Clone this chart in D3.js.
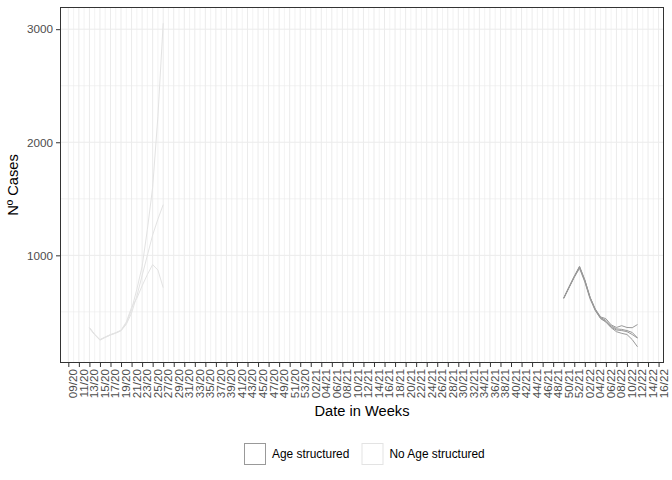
<!DOCTYPE html>
<html>
<head>
<meta charset="utf-8">
<script src="https://cdn.jsdelivr.net/npm/d3@7"></script>
<style>
  html, body { margin: 0; padding: 0; background: #ffffff; }
  svg { display: block; font-family: "Liberation Sans", Arial, sans-serif; }
</style>
</head>
<body>
<svg id="chart" width="672" height="480"></svg>
<script>
// ---------- DATA ----------
const weeks = ("09/20 10/20 11/20 12/20 13/20 14/20 15/20 16/20 17/20 18/20 19/20 20/20 21/20 22/20 23/20 24/20 25/20 26/20 27/20 28/20 29/20 30/20 31/20 32/20 33/20 34/20 35/20 36/20 37/20 38/20 39/20 40/20 41/20 42/20 43/20 44/20 45/20 46/20 47/20 48/20 49/20 50/20 51/20 52/20 53/20 " +
  "01/21 02/21 03/21 04/21 05/21 06/21 07/21 08/21 09/21 10/21 11/21 12/21 13/21 14/21 15/21 16/21 17/21 18/21 19/21 20/21 21/21 22/21 23/21 24/21 25/21 26/21 27/21 28/21 29/21 30/21 31/21 32/21 33/21 34/21 35/21 36/21 37/21 38/21 39/21 40/21 41/21 42/21 43/21 44/21 45/21 46/21 47/21 48/21 49/21 50/21 51/21 52/21 " +
  "01/22 02/22 03/22 04/22 05/22 06/22 07/22 08/22 09/22 10/22 11/22 12/22 13/22 14/22 15/22 16/22").split(" ");

// tick labels: every second week
const tickLabels = weeks.filter((d, i) => i % 2 === 0);

const yTicks = [1000, 2000, 3000];
const yMinorTicks = [500, 1500, 2500];

const groups = ["Age structured", "No Age structured"];

// No Age structured runs: weeks 13/20 .. 27/20
const noAgeStart = "13/20";
const noAgeRun1 = [360, 300, 252, 276, 297, 314, 335, 400, 520, 700, 900, 1230, 1600, 2230, 3053];
const noAgeRun2 = [355, 298, 250, 274, 295, 312, 333, 390, 490, 640, 820, 1000, 1180, 1320, 1448];
const noAgeRun3 = [362, 302, 255, 278, 299, 316, 338, 410, 540, 620, 730, 830, 918, 870, 714];

// Age structured runs: weeks 50/21 .. 12/22
const ageStart = "50/21";
const ageRun1 = [624, 720, 815, 903, 785, 630, 525, 455, 440, 385, 362, 378, 362, 360, 388];
const ageRun2 = [620, 715, 810, 895, 775, 625, 520, 450, 425, 375, 350, 345, 335, 318, 270];
const ageRun3 = [618, 712, 805, 885, 765, 615, 510, 440, 410, 360, 325, 310, 300, 255, 191];
const ageRun4 = [622, 718, 812, 898, 780, 628, 515, 445, 415, 365, 340, 335, 325, 300, 268];

// ---------- LAYOUT ----------
const svg = d3.select("#chart");
const panel = { left: 60, top: 7, right: 664, bottom: 363 };
const colors = { "Age structured": "#999999", "No Age structured": "#e3e3e3" };

const series = [
  ...[noAgeRun1, noAgeRun2, noAgeRun3].map(v => ({ group: "No Age structured", start: noAgeStart, values: v })),
  ...[ageRun1, ageRun2, ageRun3, ageRun4].map(v => ({ group: "Age structured", start: ageStart, values: v }))
];
series.forEach(s => {
  const i0 = weeks.indexOf(s.start);
  s.points = s.values.map((v, k) => ({ i: i0 + k, v }));
});

const allVals = series.flatMap(s => s.values);
const [vMin, vMax] = d3.extent(allVals);
const pad = (vMax - vMin) * 0.05;

const x = d3.scaleLinear().domain([-1.58, 113.03]).range([panel.left, panel.right]);
const y = d3.scaleLinear().domain([vMin - pad, vMax + pad]).range([panel.bottom, panel.top]);

// panel background
svg.append("rect").attr("x", panel.left).attr("y", panel.top)
  .attr("width", panel.right - panel.left).attr("height", panel.bottom - panel.top)
  .attr("fill", "#ffffff");

const grid = svg.append("g").attr("stroke", "#ebebeb").attr("fill", "none");
// vertical grid: minor at every odd week, major at ticks
weeks.forEach((w, i) => {
  grid.append("line")
    .attr("x1", x(i)).attr("x2", x(i))
    .attr("y1", panel.top).attr("y2", panel.bottom)
    .attr("stroke-width", i % 2 === 0 ? 1 : 0.6);
});
yMinorTicks.forEach(t => {
  grid.append("line").attr("x1", panel.left).attr("x2", panel.right)
    .attr("y1", y(t)).attr("y2", y(t)).attr("stroke-width", 0.6);
});
yTicks.forEach(t => {
  grid.append("line").attr("x1", panel.left).attr("x2", panel.right)
    .attr("y1", y(t)).attr("y2", y(t)).attr("stroke-width", 1);
});

// lines
const line = d3.line().x(d => x(d.i)).y(d => y(d.v));
const clip = svg.append("defs").append("clipPath").attr("id", "clip")
  .append("rect").attr("x", panel.left).attr("y", panel.top)
  .attr("width", panel.right - panel.left).attr("height", panel.bottom - panel.top);
svg.append("g").attr("clip-path", "url(#clip)")
  .selectAll("path").data(series).join("path")
  .attr("d", s => line(s.points))
  .attr("fill", "none")
  .attr("stroke", s => colors[s.group])
  .attr("stroke-width", 1);

// panel border
svg.append("rect").attr("x", panel.left + 0.5).attr("y", panel.top + 0.5)
  .attr("width", panel.right - panel.left - 1).attr("height", panel.bottom - panel.top - 1)
  .attr("fill", "none").attr("stroke", "#333333").attr("stroke-width", 1);

// y axis
const yAxis = svg.append("g")
  .attr("transform", `translate(${panel.left},0)`)
  .call(d3.axisLeft(y).tickValues(yTicks).tickSize(4).tickPadding(3).tickFormat(d3.format("d")));
yAxis.select(".domain").remove();
yAxis.selectAll(".tick line").attr("stroke", "#333333");
yAxis.selectAll(".tick text").attr("fill", "#4d4d4d").style("font-size", "11.7px")
  .style("font-family", "'Liberation Sans', Arial, sans-serif");

// x axis
const tickIdx = weeks.map((w, i) => i).filter(i => i % 2 === 0);
const xAxis = svg.append("g")
  .attr("transform", `translate(0,${panel.bottom})`)
  .call(d3.axisBottom(x).tickValues(tickIdx).tickSize(4).tickFormat(i => weeks[i]));
xAxis.select(".domain").remove();
xAxis.selectAll(".tick line").attr("stroke", "#333333");
xAxis.selectAll(".tick text")
  .attr("fill", "#4d4d4d")
  .style("font-size", "11.7px")
  .style("font-family", "'Liberation Sans', Arial, sans-serif")
  .attr("text-anchor", "end")
  .attr("transform", "rotate(-90)")
  .attr("x", -6).attr("y", 0).attr("dy", "0.72em");

// axis titles
svg.append("text").attr("x", (panel.left + panel.right) / 2).attr("y", 416)
  .attr("text-anchor", "middle").style("font-size", "14.67px").attr("fill", "#000")
  .text("Date in Weeks");
svg.append("text").attr("transform", `translate(18,${(panel.top + panel.bottom) / 2}) rotate(-90)`)
  .attr("text-anchor", "middle").style("font-size", "14.67px").attr("fill", "#000")
  .text("Nº Cases");

// legend
const legend = svg.append("g");
const legendX = [244.5, 362];
groups.forEach((g, k) => {
  const lg = legend.append("g").attr("transform", `translate(${legendX[k]},443.5)`);
  lg.append("rect").attr("width", 21).attr("height", 21)
    .attr("fill", "#ffffff").attr("stroke", colors[g]).attr("stroke-width", 1);
  lg.append("text").attr("x", 27.5).attr("y", 10.5).attr("dy", "0.35em")
    .style("font-size", "11.9px").attr("fill", "#000").text(g);
});
</script>
</body>
</html>
